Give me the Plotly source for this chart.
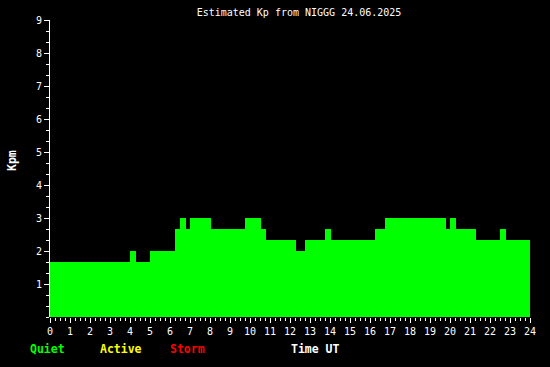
import plotly.graph_objects as go

# Segment start times (hours UT) and estimated Kp values
seg_start = [0.0, 4.0, 4.3, 5.0, 6.25, 6.5, 6.8, 7.0, 8.05, 9.75, 10.55, 10.8,
             12.3, 12.75, 13.75, 14.05, 16.25, 16.75, 19.8, 20.0, 20.3, 21.3,
             22.5, 22.8]
seg_end_last = 24.0
kp_values = [1.667, 2.0, 1.667, 2.0, 2.667, 3.0, 2.667, 3.0, 2.667, 3.0, 2.667,
             2.333, 2.0, 2.333, 2.667, 2.333, 2.667, 3.0, 2.667, 3.0, 2.667,
             2.333, 2.667, 2.333]
x_ticks = list(range(0, 25))
y_ticks = list(range(1, 10))

ends = seg_start[1:] + [seg_end_last]
widths = [e - s for s, e in zip(seg_start, ends)]

FONT = "DejaVu Sans Mono"

fig = go.Figure()
fig.add_trace(go.Bar(
    x=seg_start, y=kp_values, width=widths, offset=0,
    marker=dict(color="#00FF00", line=dict(width=0)),
    hoverinfo="x+y",
))

fig.update_layout(
    width=550, height=367,
    margin=dict(l=50, r=20, t=20, b=50),
    paper_bgcolor="black", plot_bgcolor="black",
    showlegend=False, bargap=0,
    font=dict(family=FONT, size=10, color="white"),
    title=dict(text="Estimated Kp from NIGGG 24.06.2025",
               x=299/550, xanchor="center", y=1-12/367, yanchor="middle",
               font=dict(family=FONT, size=10, color="white")),
    xaxis=dict(range=[0, 24], tickvals=x_ticks, ticktext=[str(v) for v in x_ticks],
               ticks="outside", ticklen=5, tickcolor="white", tickwidth=1,
               showline=False, showgrid=False, zeroline=False,
               minor=dict(dtick=0.25, tick0=0, ticks="outside", ticklen=3,
                          tickcolor="white", showgrid=False),
               tickfont=dict(family=FONT, size=10, color="white")),
    yaxis=dict(range=[0, 9], tickvals=y_ticks, ticktext=[str(v) for v in y_ticks],
               ticks="outside", ticklen=5, tickcolor="white", tickwidth=1,
               showline=True, linecolor="white", linewidth=1,
               showgrid=False, zeroline=False, layer="below traces",
               minor=dict(dtick=1/3, tick0=0, ticks="outside", ticklen=3,
                          tickcolor="white", showgrid=False),
               tickfont=dict(family=FONT, size=10, color="white")),
)

def label(text, px_left, py_center, color, bold=True, size=11.5):
    fig.add_annotation(
        text=f"<b>{text}</b>" if bold else text,
        xref="paper", yref="paper",
        x=(px_left - 50) / 480, y=(317 - py_center) / 297,
        xanchor="left", yanchor="middle", showarrow=False,
        font=dict(family=FONT, size=size, color=color))

label("Quiet", 28, 349, "#00FF00")
label("Active", 98, 349, "#FFFF00")
label("Storm", 168, 349, "#FF0000")
label("Time UT", 289, 349, "white")

fig.add_annotation(
    text="<b>Kpm</b>", xref="paper", yref="paper",
    x=(12 - 50) / 480, y=(317 - 161) / 297,
    xanchor="center", yanchor="middle", showarrow=False, textangle=-90,
    font=dict(family=FONT, size=11.5, color="white"))

fig.write_html("out.html")
